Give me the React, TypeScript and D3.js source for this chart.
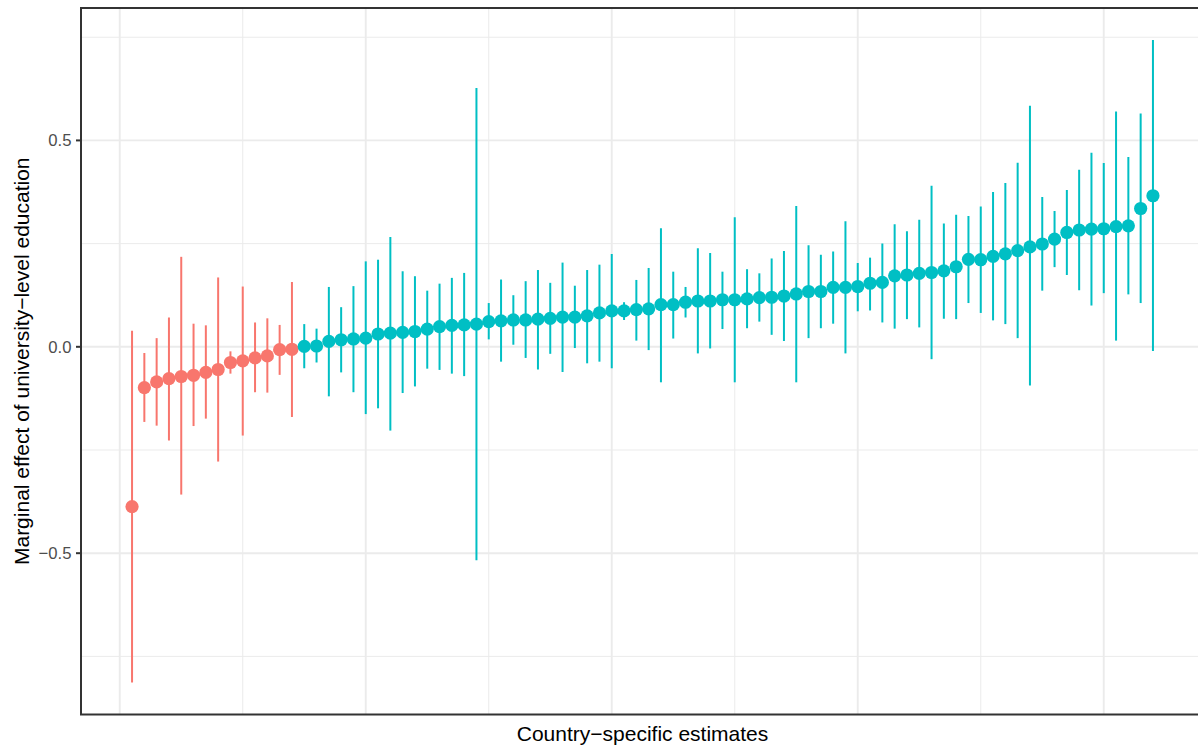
import React from "react";
import * as d3 from "d3";

const estimate = [
  -0.387, -0.099, -0.085, -0.077, -0.072, -0.069, -0.062, -0.055, -0.038, -0.034, -0.027, -0.022, -0.007, -0.006,
  0.001, 0.002, 0.013, 0.017, 0.019, 0.021, 0.031, 0.033, 0.035, 0.037, 0.043, 0.049, 0.052, 0.053, 0.055, 0.061,
  0.063, 0.065, 0.065, 0.067, 0.069, 0.072, 0.072, 0.075, 0.082, 0.087, 0.087, 0.090, 0.092, 0.102, 0.102, 0.108,
  0.111, 0.111, 0.114, 0.114, 0.116, 0.119, 0.120, 0.123, 0.128, 0.134, 0.134, 0.144, 0.144, 0.146, 0.154, 0.156,
  0.172, 0.174, 0.178, 0.180, 0.184, 0.194, 0.212, 0.211, 0.219, 0.225, 0.233, 0.242, 0.249, 0.261, 0.277, 0.283,
  0.285, 0.286, 0.291, 0.293, 0.335, 0.366,
];

const lowerCI = [
  -0.813, -0.182, -0.191, -0.227, -0.358, -0.192, -0.174, -0.278, -0.065, -0.215, -0.110, -0.111, -0.068, -0.170,
  -0.052, -0.038, -0.120, -0.062, -0.110, -0.163, -0.149, -0.203, -0.112, -0.096, -0.053, -0.056, -0.065, -0.071, -0.517, 0.018,
  -0.036, 0.005, -0.027, -0.055, -0.017, -0.061, -0.003, -0.040, -0.036, -0.052, 0.065, 0.015, -0.008, -0.086, 0.020, 0.071,
  -0.016, -0.004, 0.043, -0.086, 0.045, 0.061, 0.029, 0.014, -0.086, 0.021, 0.045, 0.056, -0.016, 0.086, 0.088, 0.059,
  0.044, 0.067, 0.047, -0.030, 0.068, 0.067, 0.106, 0.082, 0.064, 0.055, 0.021, -0.094, 0.136, 0.193, 0.174, 0.137,
  0.100, 0.130, 0.015, 0.127, 0.106, -0.010,
];

const upperCI = [
  0.039, -0.015, 0.021, 0.071, 0.218, 0.056, 0.052, 0.168, -0.011, 0.146, 0.059, 0.069, 0.053, 0.157,
  0.055, 0.044, 0.145, 0.096, 0.147, 0.207, 0.211, 0.266, 0.183, 0.171, 0.136, 0.153, 0.167, 0.179, 0.627, 0.106,
  0.163, 0.125, 0.159, 0.186, 0.155, 0.204, 0.148, 0.186, 0.199, 0.225, 0.108, 0.162, 0.191, 0.287, 0.182, 0.145,
  0.239, 0.227, 0.182, 0.314, 0.188, 0.178, 0.214, 0.232, 0.341, 0.246, 0.223, 0.231, 0.304, 0.203, 0.216, 0.250,
  0.297, 0.280, 0.308, 0.390, 0.299, 0.320, 0.317, 0.340, 0.375, 0.397, 0.446, 0.584, 0.363, 0.329, 0.380, 0.429,
  0.470, 0.445, 0.570, 0.460, 0.565, 0.743,
];

const yTicks = [-0.5, 0.0, 0.5];
const yTickLabels = ["\u22120.5", "0.0", "0.5"];
const yMinor = [-0.75, -0.25, 0.25, 0.75];
const xMajor = [0, 20, 40, 60, 80];
const xMinor = [10, 30, 50, 70];

const xTitle = "Country\u2212specific estimates";
const yTitle = "Marginal effect of university\u2212level education";

const negColor = "#F8766D";
const posColor = "#00BFC4";

export default function App() {
  const W = 1198;
  const H = 748;
  const left = 81;
  const top = 8;
  const right = 1204;
  const bottom = 714.5;

  const n = estimate.length;
  const xPad = (n - 1) * 0.05;
  const x = d3.scaleLinear().domain([1 - xPad, n + xPad]).range([left, right]);

  const yMin = d3.min(lowerCI) as number;
  const yMax = d3.max(upperCI) as number;
  const yPad = (yMax - yMin) * 0.05;
  const y = d3.scaleLinear().domain([yMin - yPad, yMax + yPad]).range([bottom, top]);

  const font = "'Liberation Sans', Arial, Helvetica, sans-serif";

  return (
    <svg
      width={W}
      height={H}
      style={{ position: "absolute", left: 0, top: 0, background: "#fff" }}
      xmlns="http://www.w3.org/2000/svg"
    >
      <defs>
        <clipPath id="panel">
          <rect x={left} y={top} width={right - left} height={bottom - top} />
        </clipPath>
      </defs>
      <rect x={0} y={0} width={W} height={H} fill="#fff" />
      <g clipPath="url(#panel)">
        {yMinor.map((v) => (
          <line key={"ym" + v} x1={left} x2={right} y1={y(v)} y2={y(v)} stroke="#EBEBEB" strokeWidth={1} />
        ))}
        {xMinor.map((v) => (
          <line key={"xm" + v} x1={x(v)} x2={x(v)} y1={top} y2={bottom} stroke="#EBEBEB" strokeWidth={1} />
        ))}
        {yTicks.map((v) => (
          <line key={"yM" + v} x1={left} x2={right} y1={y(v)} y2={y(v)} stroke="#EBEBEB" strokeWidth={1.9} />
        ))}
        {xMajor.map((v) => (
          <line key={"xM" + v} x1={x(v)} x2={x(v)} y1={top} y2={bottom} stroke="#EBEBEB" strokeWidth={1.9} />
        ))}
        {estimate.map((e, i) => (
          <line
            key={"ci" + i}
            x1={x(i + 1)}
            x2={x(i + 1)}
            y1={y(lowerCI[i])}
            y2={y(upperCI[i])}
            stroke={e < 0 ? negColor : posColor}
            strokeWidth={2}
          />
        ))}
        {estimate.map((e, i) => (
          <circle key={"pt" + i} cx={x(i + 1)} cy={y(e)} r={6.6} fill={e < 0 ? negColor : posColor} />
        ))}
      </g>
      <rect
        x={left}
        y={top}
        width={right - left}
        height={bottom - top}
        fill="none"
        stroke="#333333"
        strokeWidth={2}
      />
      {yTicks.map((v, i) => (
        <g key={"yt" + v}>
          <line x1={left - 5} x2={left} y1={y(v)} y2={y(v)} stroke="#333333" strokeWidth={2} />
          <text
            x={left - 9.5}
            y={y(v)}
            dy="0.36em"
            textAnchor="end"
            fontFamily={font}
            fontSize={16.7}
            fill="#4D4D4D"
          >
            {yTickLabels[i]}
          </text>
        </g>
      ))}
      <text x={(left + right) / 2} y={741} textAnchor="middle" fontFamily={font} fontSize={21} fill="#000">
        {xTitle}
      </text>
      <text
        transform={`translate(28.5, ${(top + bottom) / 2}) rotate(-90)`}
        textAnchor="middle"
        fontFamily={font}
        fontSize={21}
        fill="#000"
      >
        {yTitle}
      </text>
    </svg>
  );
}
